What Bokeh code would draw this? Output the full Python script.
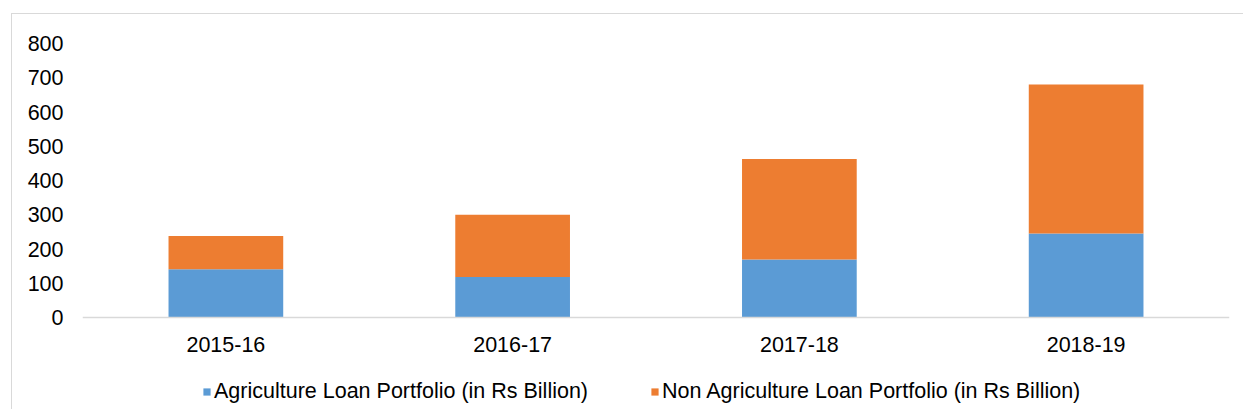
from bokeh.plotting import figure
from bokeh.models import Range1d, FixedTicker, Legend, LegendItem, ColumnDataSource
from bokeh.embed import file_html
from bokeh.resources import INLINE

years = ["2015-16", "2016-17", "2017-18", "2018-19"]
agri = [141, 118, 169, 245]
non_agri = [97, 182, 294, 435]
y_ticks = [0, 100, 200, 300, 400, 500, 600, 700, 800]
series = ["Agriculture Loan Portfolio (in Rs Billion)",
          "Non Agriculture Loan Portfolio (in Rs Billion)"]
colors = ["#5B9BD5", "#ED7D31"]

FONT = "Liberation Sans"
FS = "21.5px"

src = ColumnDataSource(dict(year=years, agri=agri, non=non_agri))

# the frame runs down to the canvas bottom so that the legend can sit inside it;
# the value axis only shows 0..800 and the category axis is pinned at y = 0
p = figure(x_range=years, y_range=Range1d(-271.5, 800), width=1232, height=396,
           output_backend="svg", toolbar_location=None,
           min_border_left=70, min_border_right=15, min_border_top=29,
           min_border_bottom=0)
p.styles = {"margin-left": "11px", "margin-top": "13px",
            "border-left": "1px solid #d9d9d9", "border-top": "1px solid #d9d9d9"}

r = p.vbar_stack(["agri", "non"], x="year", width=0.4, fill_color=colors,
                 line_color=None, source=src)

p.xgrid.grid_line_color = None
p.ygrid.grid_line_color = None
p.outline_line_color = None

p.xaxis.fixed_location = 0
p.xaxis.axis_line_color = "#d9d9d9"
p.xaxis.axis_line_width = 1.5
p.xaxis.major_tick_line_color = None
p.xaxis.minor_tick_line_color = None
p.xaxis.major_label_standoff = 13
p.xaxis.major_label_text_font = FONT
p.xaxis.major_label_text_font_size = FS
p.xaxis.major_label_text_color = "#000000"

p.yaxis.ticker = FixedTicker(ticks=y_ticks)
p.yaxis.axis_line_color = None
p.yaxis.major_tick_line_color = None
p.yaxis.minor_tick_line_color = None
p.yaxis.major_tick_out = 0
p.yaxis.major_label_standoff = 19
p.yaxis.major_label_text_font = FONT
p.yaxis.major_label_text_font_size = FS
p.yaxis.major_label_text_color = "#000000"

legend = Legend(items=[LegendItem(label=series[0], renderers=[r[0]]),
                       LegendItem(label=series[1], renderers=[r[1]])],
                orientation="horizontal", location=(120, 6))
legend.border_line_color = None
legend.background_fill_alpha = 0
legend.padding = 0
legend.margin = 0
legend.spacing = 62
legend.label_standoff = 3
legend.glyph_width = 9
legend.glyph_height = 9
legend.label_height = 24
legend.label_text_font = FONT
legend.label_text_font_size = FS
legend.label_text_color = "#000000"
p.add_layout(legend, "center")

open("out.html", "w").write(file_html(p, INLINE))
